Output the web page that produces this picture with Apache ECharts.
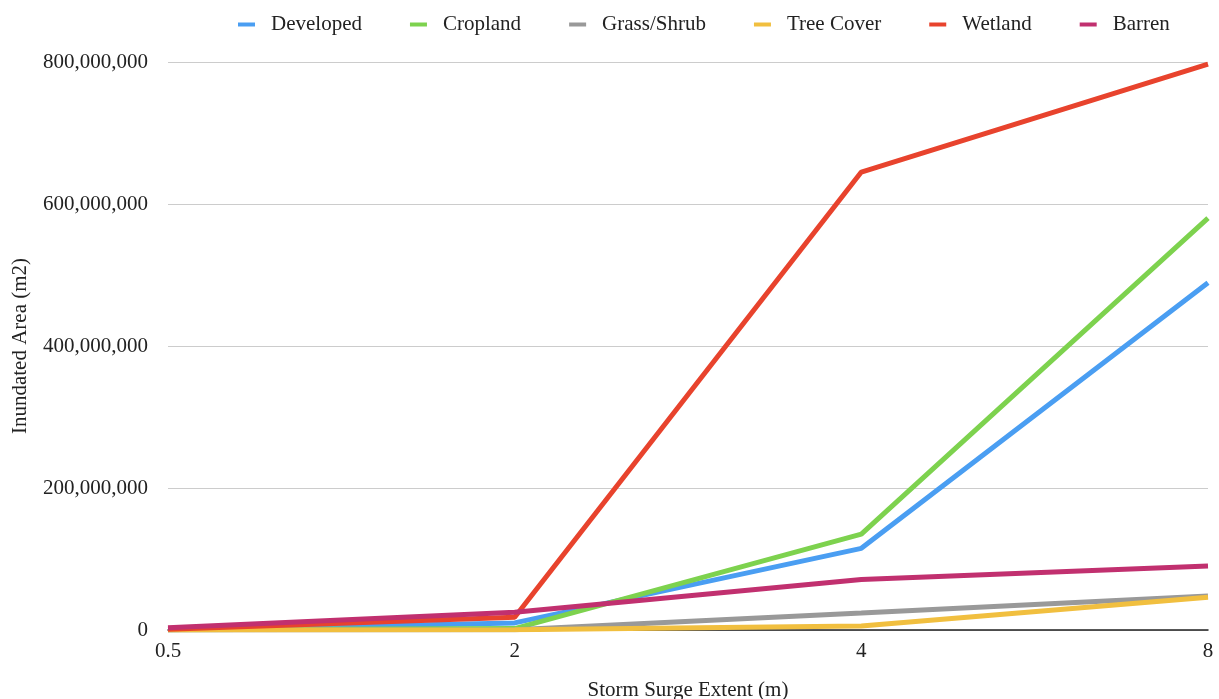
<!DOCTYPE html>
<html>
<head>
<meta charset="utf-8">
<script src="https://cdn.jsdelivr.net/npm/echarts@6/dist/echarts.min.js"></script>
<style>
  html, body { margin: 0; padding: 0; background: #fff; }
  #chart { width: 1219px; height: 699px; }
</style>
</head>
<body>
<div id="chart"></div>
<script>
// Storm surge extents (m)
const surgeExtents = ['0.5', '2', '4', '8'];

// Inundated area per land cover class (m2)
const developed = [500000, 10000000, 115000000, 489000000];
const cropland  = [300000, 2000000, 135000000, 580000000];
const grassShrub = [100000, 300000, 24000000, 48000000];
const treeCover = [50000, 200000, 5500000, 46000000];
const wetland   = [1000000, 18000000, 645000000, 797000000];
const barren    = [3000000, 25000000, 71000000, 90000000];

const seriesNames = ['Developed', 'Cropland', 'Grass/Shrub', 'Tree Cover', 'Wetland', 'Barren'];
const seriesData = [developed, cropland, grassShrub, treeCover, wetland, barren];
const colors = ['#4a9ef2', '#7dd24e', '#999999', '#f1bf3f', '#e8432d', '#c1306f'];

const font = 'Liberation Serif, Times New Roman, serif';

const chart = echarts.init(document.getElementById('chart'), null, { renderer: 'canvas' });
chart.setOption({
  animation: false,
  color: colors,
  textStyle: { fontFamily: font },
  legend: {
    top: 9,
    left: 233,
    icon: 'rect',
    itemWidth: 17,
    itemHeight: 4,
    itemGap: 48,
    textStyle: { fontFamily: font, fontSize: 21, color: '#222', padding: [0, 0, 0, 11] },
    data: seriesNames
  },
  grid: { left: 168, right: 11, top: 62, bottom: 69, outerBoundsMode: 'none' },
  xAxis: {
    type: 'category',
    data: surgeExtents,
    boundaryGap: false,
    name: 'Storm Surge Extent (m)',
    nameLocation: 'middle',
    nameGap: 50,
    nameTextStyle: { fontFamily: font, fontSize: 21, color: '#222' },
    axisLine: { lineStyle: { color: '#222', width: 1.5 } },
    axisTick: { show: false },
    axisLabel: { fontFamily: font, fontSize: 21, color: '#222', margin: 11 }
  },
  yAxis: {
    type: 'value',
    min: 0,
    max: 800000000,
    interval: 200000000,
    name: 'Inundated Area (m2)',
    nameLocation: 'middle',
    nameGap: 137,
    nameTextStyle: { fontFamily: font, fontSize: 21, color: '#222' },
    axisLine: { show: false },
    axisTick: { show: false },
    splitLine: { lineStyle: { color: '#cccccc', width: 1 } },
    axisLabel: {
      fontFamily: font, fontSize: 21, color: '#222', margin: 20,
      formatter: v => v.toLocaleString('en-US')
    }
  },
  series: seriesNames.map((name, i) => ({
    name,
    type: 'line',
    data: seriesData[i],
    showSymbol: false,
    symbol: 'none',
    lineStyle: { width: 5, color: colors[i] },
    itemStyle: { color: colors[i] }
  }))
});
</script>
</body>
</html>
